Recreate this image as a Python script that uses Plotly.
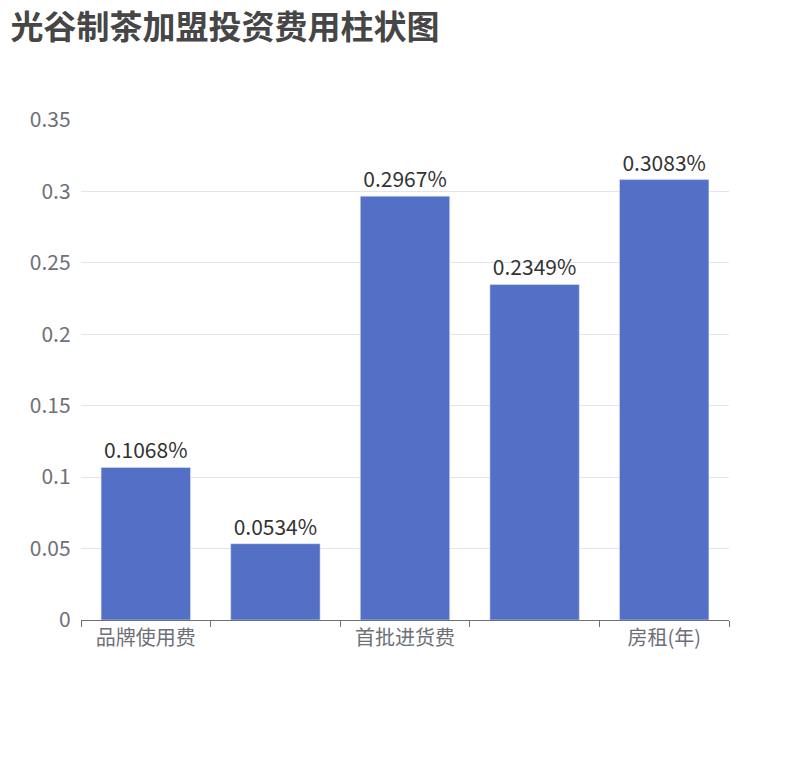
import plotly.graph_objects as go

categories = ["品牌使用费", "加盟费", "首批进货费", "装修费", "房租(年)"]
tick_text = ["品牌使用费", "", "首批进货费", "", "房租(年)"]
values = [0.1068, 0.0534, 0.2967, 0.2349, 0.3083]

fig = go.Figure()
fig.add_trace(go.Bar(
    x=categories,
    y=values,
    marker_color="#5470C6",
    text=[str(v) + "%" for v in values],
    textposition="outside",
    textfont=dict(size=21, color="#333333"),
    cliponaxis=False,
))
fig.update_layout(
    width=810, height=760,
    margin=dict(l=73, r=89, t=112, b=148),
    paper_bgcolor="white", plot_bgcolor="white",
    font=dict(family="Noto Sans CJK SC", color="#6E7079"),
    title=dict(text="<b>光谷制茶加盟投资费用柱状图</b>", x=0.003, y=0.99, xanchor="left", yanchor="top",
               font=dict(size=33, color="#464646")),
    bargap=0.31,
    showlegend=False,
    xaxis=dict(tickvals=categories, ticktext=tick_text, tickfont=dict(size=20),
               showline=True, linecolor="#6E7079", ticks="outside", tickson="boundaries",
               ticklen=6, tickcolor="#6E7079", showgrid=False),
    yaxis=dict(range=[0, 0.35], dtick=0.05, tickfont=dict(size=21), gridcolor="#E0E6F1",
               zeroline=False, ticksuffix="  "),
)
fig.write_html("out.html")
